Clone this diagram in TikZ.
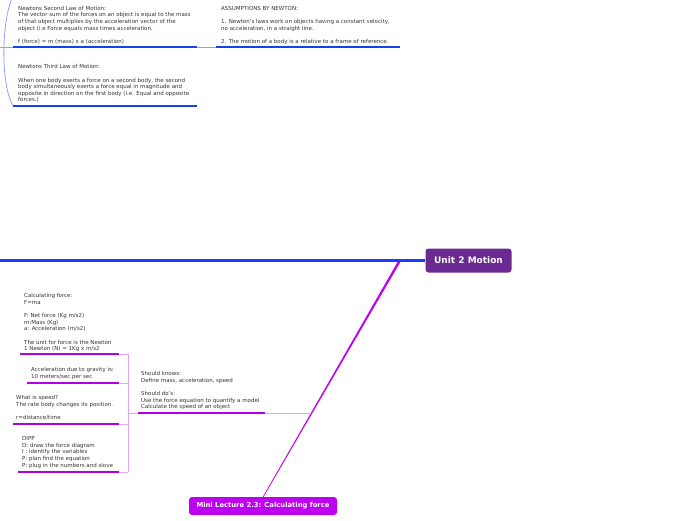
\documentclass[tikz,border=0pt]{standalone}
\usepackage{fontspec}
\usetikzlibrary{calc}
\setmainfont{DejaVu Sans}
\definecolor{mainblue}{HTML}{1A3CFF}
\definecolor{subblue}{HTML}{1444E6}
\definecolor{lightblue}{HTML}{8FA2FF}
\definecolor{unitpurple}{HTML}{6B2A92}
\definecolor{lecpurple}{HTML}{BE00F0}
\definecolor{subpurple}{HTML}{B000E8}
\definecolor{lightpurple}{HTML}{E6A6F2}
\definecolor{txt}{HTML}{333333}
\tikzset{
  leaf/.style={anchor=north west, inner sep=0pt, align=left, text=txt,
    font=\fontsize{5.5}{6.6}\selectfont},
  blueline/.style={draw=subblue, line width=2.6pt},
  purpleline/.style={draw=subpurple, line width=2.4pt},
  thinblue/.style={draw=lightblue, line width=0.8pt},
  thinpurple/.style={draw=lightpurple, line width=0.8pt},
  topic/.style={rounded corners=3pt, text=white, inner sep=0pt,
    font=\bfseries},
}
\begin{document}
\begin{tikzpicture}[x=1pt,y=-1pt]
\useasboundingbox (0,0) rectangle (696,520);

% ---------- central topic ----------
\node[topic, fill=unitpurple, minimum width=86pt, minimum height=24pt,
  font=\bfseries\fontsize{9}{10}\selectfont] (unit) at (468.5,260.5) {Unit 2 Motion};
\coordinate (mainL) at (0,260.5);
\draw[mainblue, line width=3.6pt] (mainL) -- (unit.west);

% ---------- upper (blue) branch ----------
\coordinate (bStart) at (0,47);
\coordinate (bJoin) at (13,47);
\coordinate (bTop) at (12,-2);
\coordinate (bBot) at (13,106);
\draw[thinblue] (bStart) -- (bJoin);
\draw[thinblue] (bTop) .. controls (1,25) and (1,85) .. (bBot);

\node[leaf] (second) at (18,6) {Newtons Second Law of Motion:\\
The vector sum of the forces on an object is equal to the mass\\
of that object multiplies by the acceleration vector of the\\
object (i.e Force equals mass times acceleration.\\[6.6pt]
f (force) = m (mass) x a (acceleration)};
\coordinate (s2L) at (13,47);
\coordinate (s2R) at (197,47);
\draw[blueline] (s2L) -- (s2R);

\node[leaf] (third) at (18,64.5) {Newtons Third Law of Motion:\\[6.6pt]
When one body exerts a force on a second body, the second\\
body simultaneously exerts a force equal in magnitude and\\
opposite in direction on the first body (i.e. Equal and opposite\\
forces.)};
\coordinate (s3L) at (13,106);
\coordinate (s3R) at (197,106);
\draw[blueline] (s3L) -- (s3R);

\node[leaf] (assume) at (221,6) {ASSUMPTIONS BY NEWTON:\\[6.6pt]
1. Newton's laws work on objects having a constant velocity,\\
no acceleration, in a straight line.\\[6.6pt]
2. The motion of a body is a relative to a frame of reference.};
\coordinate (aL) at (216,47);
\coordinate (aR) at (400,47);
\draw[thinblue] (s2R) -- (aL);
\draw[blueline] (aL) -- (aR);

% ---------- lower (purple) branch ----------
\node[topic, fill=lecpurple, minimum width=148pt, minimum height=18pt,
  font=\bfseries\fontsize{6.8}{8}\selectfont] (lecture) at (263,506) {Mini Lecture 2.3: Calculating force};
\coordinate (dTop) at (399,262);
\coordinate (dBot) at (262.5,498);
\fill[lecpurple] ($(dTop)+(-1.4,0)$) -- ($(dTop)+(1.4,0)$) -- ($(dBot)+(0.4,0)$) -- ($(dBot)+(-0.4,0)$) -- cycle;

\coordinate (kJoin) at (311.3,413);
\coordinate (kR) at (265,413);
\coordinate (kL) at (138,413);
\draw[thinpurple] (kJoin) -- (kR);
\draw[purpleline] (kR) -- (kL);
\node[leaf] (should) at (141,371.5) {Should knows:\\
Define mass, acceleration, speed\\[6.6pt]
Should do's:\\
Use the force equation to quantify a model\\
Calculate the speed of an object};

\coordinate (brX) at (128,413);
\coordinate (brTop) at (128,354);
\coordinate (brBot) at (128,472);
\draw[thinpurple] (kL) -- (brX);
\draw[thinpurple] (brTop) -- (brBot);

\node[leaf] (calc) at (24,293.5) {Calculating force:\\
F=ma\\[6.6pt]
F: Net force (Kg m/s2)\\
m:Mass (Kg)\\
a: Acceleration (m/s2)\\[6.6pt]
The unit for force is the Newton\\
1 Newton (N) = 1Kg x m/s2};
\coordinate (c1L) at (20,354);
\coordinate (c1R) at (119,354);
\draw[purpleline] (c1L) -- (c1R);
\draw[thinpurple] (c1R) -- (brTop);

\node[leaf] (grav) at (31,367.5) {Acceleration due to gravity is:\\
10 meters/sec per sec};
\coordinate (c2L) at (27,383);
\coordinate (c2R) at (119,383);
\coordinate (c2B) at (128,383);
\draw[purpleline] (c2L) -- (c2R);
\draw[thinpurple] (c2R) -- (c2B);

\node[leaf] (speed) at (16,395.5) {What is speed?\\
The rate body changes its position.\\[6.6pt]
r=distance/time};
\coordinate (c3L) at (13,424);
\coordinate (c3R) at (119,424);
\coordinate (c3B) at (128,424);
\draw[purpleline] (c3L) -- (c3R);
\draw[thinpurple] (c3R) -- (c3B);

\node[leaf] (dipp) at (22,436.5) {DIPP\\
D: draw the force diagram\\
I : identify the variables\\
P: plan find the equation\\
P: plug in the numbers and slove};
\coordinate (c4L) at (18,472);
\coordinate (c4R) at (119,472);
\draw[purpleline] (c4L) -- (c4R);
\draw[thinpurple] (c4R) -- (brBot);
\end{tikzpicture}
\end{document}
